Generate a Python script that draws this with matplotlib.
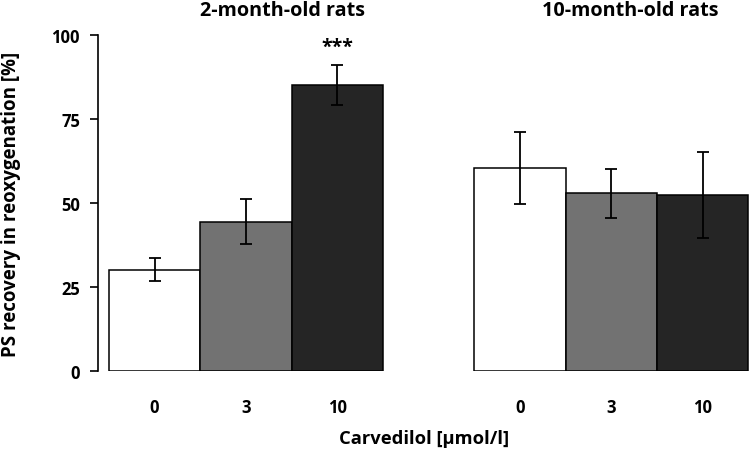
import matplotlib
matplotlib.use("Agg")
import matplotlib.pyplot as plt

plt.rcParams['font.family'] = ['Open Sans', 'DejaVu Sans']
plt.rcParams['font.weight'] = 'bold'

groups = ["2-month-old rats", "10-month-old rats"]
doses = ["0", "3", "10"]
means_2m = [30.2, 44.5, 85.1]
err_2m = [3.4, 6.7, 6.0]
means_10m = [60.4, 52.9, 52.4]
err_10m = [10.8, 7.4, 12.8]
colors = ["#ffffff", "#727272", "#252525"]
yticks = [0, 25, 50, 75, 100]

fig = plt.figure(figsize=(7.5, 4.56), dpi=100)
ax = fig.add_axes([98/750, 1-372.3/456, 1-98/750, (372.3-36)/456])

pos1 = [0, 1, 2]
pos2 = [4, 5, 6]
ekw = dict(elinewidth=1.3, capthick=1.3, ecolor='black')
ax.bar(pos1, means_2m, width=1.0, color=colors, edgecolor='black', linewidth=1.1,
       yerr=err_2m, capsize=4.5, error_kw=ekw, zorder=2)
ax.bar(pos2, means_10m, width=1.0, color=colors, edgecolor='black', linewidth=1.1,
       yerr=err_10m, capsize=4.5, error_kw=ekw, zorder=2)

ax.set_xlim(-0.62, 6.52)
ax.set_ylim(0, 100)
ax.set_yticks(yticks)
ax.set_yticklabels([str(v) for v in yticks], fontsize=12, fontweight='bold')
ax.set_xticks(pos1 + pos2)
ax.set_xticklabels(doses + doses, fontsize=12, fontweight='bold')
ax.tick_params(axis='x', length=0, pad=19)
ax.tick_params(axis='y', length=6, width=1.2, pad=7, direction='out')

for s in ['top', 'right', 'bottom']:
    ax.spines[s].set_visible(False)
ax.spines['left'].set_linewidth(1.2)

fig.text(11/750, 1-204/456, "PS recovery in reoxygenation [%]", rotation=90,
         ha='center', va='center', fontsize=13.5, fontweight='bold')
fig.text(424/750, 1-439/456, "Carvedilol [µmol/l]", ha='center', va='center',
         fontsize=13.2, fontweight='bold')

fig.text(282/750, 1-11/456, groups[0], ha='center', va='center', fontsize=14.2, fontweight='bold')
fig.text(630/750, 1-11/456, groups[1], ha='center', va='center', fontsize=14.2, fontweight='bold')

ax.text(pos1[2], means_2m[2] + err_2m[2] + 2.5, "***", ha='center', va='bottom',
        fontsize=14, fontweight='bold')

fig.savefig("out.png", dpi=100)
